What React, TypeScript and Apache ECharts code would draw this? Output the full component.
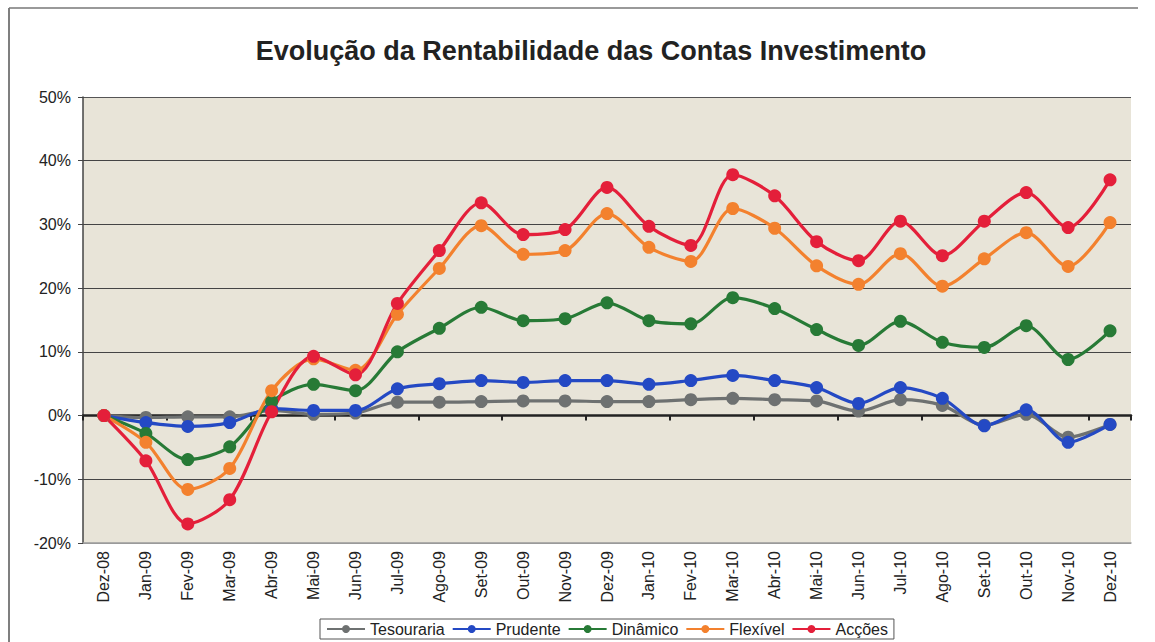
import React, { useEffect, useRef } from "react";
import * as echarts from "echarts";

const categories = [
  "Dez-08", "Jan-09", "Fev-09", "Mar-09", "Abr-09", "Mai-09", "Jun-09", "Jul-09",
  "Ago-09", "Set-09", "Out-09", "Nov-09", "Dez-09", "Jan-10", "Fev-10", "Mar-10",
  "Abr-10", "Mai-10", "Jun-10", "Jul-10", "Ago-10", "Set-10", "Out-10", "Nov-10", "Dez-10",
];

const tesouraria = [0, -0.3, -0.2, -0.2, 0.8, 0.2, 0.4, 2.1, 2.1, 2.2, 2.3, 2.3, 2.2, 2.2, 2.5, 2.7, 2.5, 2.3, 0.7, 2.5, 1.6, -1.5, 0.2, -3.4, -1.4];
const prudente = [0, -1.1, -1.7, -1.1, 1.1, 0.8, 0.8, 4.2, 5.0, 5.5, 5.2, 5.5, 5.5, 4.9, 5.5, 6.3, 5.5, 4.4, 1.9, 4.4, 2.7, -1.6, 0.9, -4.2, -1.4];
const dinamico = [0, -2.8, -6.9, -4.9, 2.2, 4.9, 3.9, 10.0, 13.7, 17.0, 14.9, 15.2, 17.7, 14.9, 14.4, 18.5, 16.8, 13.5, 11.0, 14.8, 11.5, 10.7, 14.1, 8.8, 13.3];
const flexivel = [0, -4.2, -11.6, -8.3, 3.9, 8.9, 7.1, 15.9, 23.1, 29.8, 25.3, 25.9, 31.7, 26.4, 24.2, 32.5, 29.4, 23.5, 20.6, 25.4, 20.3, 24.6, 28.7, 23.4, 30.3];
const accoes = [0, -7.1, -17.0, -13.2, 0.6, 9.3, 6.4, 17.6, 25.9, 33.4, 28.4, 29.2, 35.8, 29.7, 26.7, 37.8, 34.5, 27.3, 24.3, 30.5, 25.1, 30.5, 35.0, 29.5, 37.0];

const seriesNames = ["Tesouraria", "Prudente", "Dinâmico", "Flexível", "Acções"];
const seriesColors = ["#6e7171", "#2449c4", "#277a36", "#f3812e", "#e41f3a"];
const seriesData = [tesouraria, prudente, dinamico, flexivel, accoes];

const FONT = "'Liberation Sans', Arial, sans-serif";

export default function App() {
  const ref = useRef<HTMLDivElement>(null);

  useEffect(() => {
    document.body.style.margin = "0";
    if (!ref.current) return;
    const chart = echarts.init(ref.current, undefined, { renderer: "svg" });
    chart.setOption({
      animation: false,
      backgroundColor: "#ffffff",
      textStyle: { fontFamily: FONT },
      title: {
        text: "Evolução da Rentabilidade das Contas Investimento",
        left: 586,
        textAlign: "center",
        top: 32,
        textStyle: { fontFamily: FONT, fontSize: 27, fontWeight: "bold", color: "#222" },
      },
      graphic: [
        { type: "line", shape: { x1: 9, y1: 8, x2: 9, y2: 642 }, style: { stroke: "#555", lineWidth: 1.5 } },
        { type: "line", shape: { x1: 9, y1: 8, x2: 1138, y2: 8 }, style: { stroke: "#777", lineWidth: 1.5 } },
      ],
      legend: {
        bottom: 3,
        left: 320,
        data: seriesNames,
        itemWidth: 38,
        itemHeight: 10,
        itemGap: 7,
        padding: [2, 6, 2, 6],
        borderColor: "#555",
        borderWidth: 1,
        backgroundColor: "#fff",
        textStyle: { fontFamily: FONT, fontSize: 16, color: "#222" },
      },
      grid: {
        left: 83,
        right: 24,
        top: 97,
        bottom: 99,
        show: true,
        backgroundColor: "#e8e4d8",
        borderWidth: 0,
      },
      xAxis: [
        {
          type: "category",
          data: categories,
          boundaryGap: true,
          position: "bottom",
          axisLine: { onZero: false, show: true, lineStyle: { color: "#9a9a9a", width: 1.5 } },
          axisTick: { show: false },
          axisLabel: { rotate: 90, margin: 8, fontSize: 16, color: "#222", fontFamily: FONT },
          splitLine: { show: false },
        },
        {
          type: "category",
          data: categories,
          boundaryGap: true,
          position: "bottom",
          axisLine: { onZero: true, show: true, lineStyle: { color: "#222", width: 2.5 } },
          axisTick: { show: true, length: 5, lineStyle: { color: "#222", width: 2 } },
          axisLabel: { show: false },
          splitLine: { show: false },
        },
      ],
      yAxis: {
        type: "value",
        min: -20,
        max: 50,
        interval: 10,
        axisLine: { show: true, lineStyle: { color: "#444", width: 1.5 } },
        axisTick: { show: true, length: 5, lineStyle: { color: "#444" } },
        axisLabel: { formatter: "{value}%", fontSize: 16, color: "#222", margin: 12, fontFamily: FONT },
        splitLine: {
          show: true,
          lineStyle: { color: ["#9a9a9a", "#444", "#444", "#444", "#444", "#444", "#444", "#555"], width: 1.2 },
        },
      },
      series: seriesNames.map((name, i) => ({
        name,
        type: "line",
        xAxisIndex: 0,
        data: seriesData[i],
        smooth: 0.3,
        symbol: "circle",
        symbolSize: 13,
        itemStyle: { color: seriesColors[i] },
        lineStyle: { color: seriesColors[i], width: 3.2 },
      })),
    });
    return () => chart.dispose();
  }, []);

  return <div ref={ref} style={{ width: 1155, height: 642 }} />;
}
